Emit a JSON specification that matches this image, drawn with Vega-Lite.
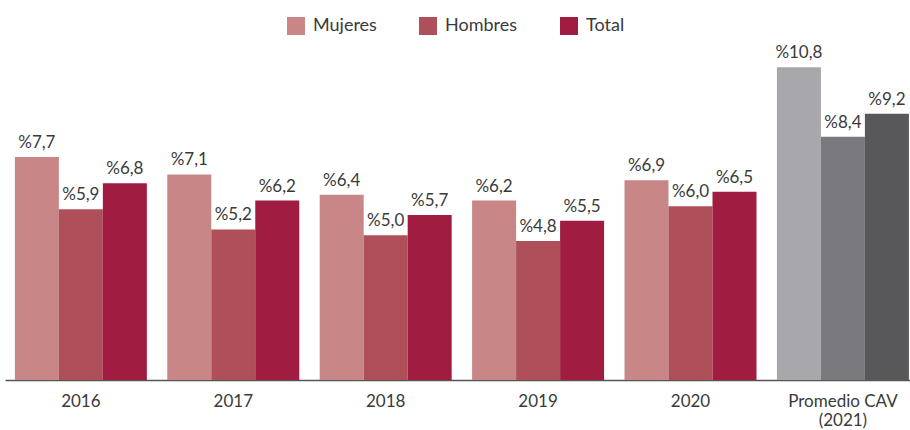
{
  "$schema": "https://vega.github.io/schema/vega-lite/v6.json",
  "autosize": {"type": "none"},
  "width": 905,
  "height": 330,
  "padding": {"left": 5, "top": 50, "right": 0, "bottom": 50},
  "background": "white",
  "config": {
    "view": {"stroke": null},
    "font": "Lato",
    "text": {"font": "Lato"}
  },
  "data": {
    "values": [
      {"anio": "2016", "serie": "Mujeres", "v": 7.7},
      {"anio": "2016", "serie": "Hombres", "v": 5.9},
      {"anio": "2016", "serie": "Total", "v": 6.8},
      {"anio": "2017", "serie": "Mujeres", "v": 7.1},
      {"anio": "2017", "serie": "Hombres", "v": 5.2},
      {"anio": "2017", "serie": "Total", "v": 6.2},
      {"anio": "2018", "serie": "Mujeres", "v": 6.4},
      {"anio": "2018", "serie": "Hombres", "v": 5.0},
      {"anio": "2018", "serie": "Total", "v": 5.7},
      {"anio": "2019", "serie": "Mujeres", "v": 6.2},
      {"anio": "2019", "serie": "Hombres", "v": 4.8},
      {"anio": "2019", "serie": "Total", "v": 5.5},
      {"anio": "2020", "serie": "Mujeres", "v": 6.9},
      {"anio": "2020", "serie": "Hombres", "v": 6.0},
      {"anio": "2020", "serie": "Total", "v": 6.5},
      {"anio": "Promedio CAV (2021)", "serie": "Mujeres", "v": 10.8},
      {"anio": "Promedio CAV (2021)", "serie": "Hombres", "v": 8.4},
      {"anio": "Promedio CAV (2021)", "serie": "Total", "v": 9.2}
    ]
  },
  "encoding": {
    "x": {
      "field": "anio",
      "type": "nominal",
      "sort": null,
      "scale": {"paddingInner": 0.134, "paddingOuter": 0.036, "align": 0.9},
      "axis": {
        "title": null,
        "labelAngle": 0,
        "labelFontSize": 17,
        "labelColor": "#3a3a3a",
        "labelPadding": 13,
        "labelLineHeight": 19,
        "ticks": false,
        "domainColor": "#555555",
        "domainWidth": 1.5,
        "labelExpr": "datum.value == 'Promedio CAV (2021)' ? ['Promedio CAV', '(2021)'] : datum.value"
      }
    },
    "xOffset": {
      "field": "serie",
      "type": "nominal",
      "sort": ["Mujeres", "Hombres", "Total"],
      "scale": {"paddingInner": 0, "paddingOuter": 0}
    },
    "y": {
      "field": "v",
      "type": "quantitative",
      "scale": {"domain": [0, 11.4], "nice": false, "zero": true},
      "axis": null
    }
  },
  "layer": [
    {
      "transform": [{"filter": "datum.anio != 'Promedio CAV (2021)'"}],
      "mark": {"type": "bar"},
      "encoding": {
        "color": {
          "field": "serie",
          "type": "nominal",
          "sort": ["Mujeres", "Hombres", "Total"],
          "scale": {"domain": ["Mujeres", "Hombres", "Total"], "range": ["#C98686", "#AE4F5A", "#A01C40"]},
          "legend": {
            "title": null,
            "orient": "none",
            "legendX": 282,
            "legendY": -33,
            "direction": "horizontal",
            "symbolType": "square",
            "symbolSize": 324,
            "symbolStrokeWidth": 0,
            "symbolOpacity": 1,
            "labelFontSize": 18,
            "labelColor": "#3a3a3a",
            "labelOffset": 8,
            "columnPadding": 42
          }
        }
      }
    },
    {
      "transform": [{"filter": "datum.anio == 'Promedio CAV (2021)'"}],
      "mark": {"type": "bar"},
      "encoding": {
        "color": {
          "field": "serie",
          "type": "nominal",
          "scale": {"domain": ["Mujeres", "Hombres", "Total"], "range": ["#A8A8AC", "#7A7A7E", "#58585A"]},
          "legend": null
        }
      }
    },
    {
      "transform": [{"calculate": "'%' + replace(format(datum.v, '.1f'), '.', ',')", "as": "lbl"}],
      "mark": {"type": "text", "baseline": "bottom", "dy": -5, "fontSize": 17, "color": "#3a3a3a"},
      "encoding": {
        "text": {"field": "lbl"}
      }
    }
  ],
  "resolve": {"scale": {"color": "independent"}}
}
